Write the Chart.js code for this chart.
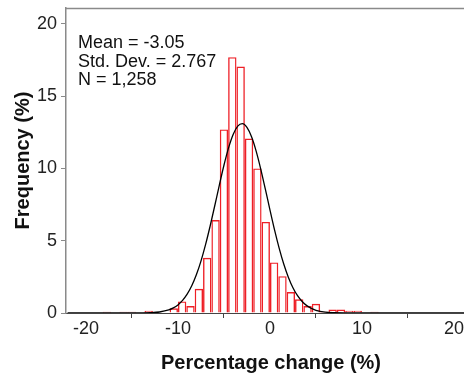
<!DOCTYPE html>
<html><head><meta charset="utf-8">
<script src="https://cdn.jsdelivr.net/npm/chart.js@4.4.1/dist/chart.umd.min.js"></script>
<style>
html,body{margin:0;padding:0;overflow:hidden;background:#fff;width:464px;height:377px}
#wrap{position:relative;width:476px;height:377px}
#stats{position:absolute;left:78px;top:33px;font:18px 'Liberation Sans',Arial,sans-serif;line-height:18.5px;color:#111;white-space:nowrap}
</style></head><body>
<div id="wrap"><canvas id="c"></canvas><div id="stats"></div></div>
<script>
// Histogram bins (bin centres, %)
const binCenters = [-17.727,-16.818,-15.909,-15.000,-14.091,-13.182,-12.273,-11.364,-10.455,-9.545,-8.636,-7.727,-6.818,-5.909,-5.000,-4.091,-3.182,-2.273,-1.364,-0.455,0.455,1.364,2.273,3.182,4.091,5.000,5.909,6.818,7.727,8.636,9.545,10.455,11.364];
const frequencies = [0.08,0,0.08,0.08,0,0.16,0,0,0.32,0.80,0.48,1.67,3.82,6.43,12.7,17.7,17.05,12.07,10.0,6.3,3.5,2.55,1.45,0.95,0.48,0.64,0.08,0.24,0.24,0.16,0.16,0,0.08];
// Fitted normal curve
const curveX = [-22,-18,-16,-15,-14,-13,-12,-11,-10.5,-10,-9.5,-9,-8.5,-8,-7.5,-7,-6.5,-6,-5.5,-5,-4.5,-4,-3.5,-3,-2.5,-2,-1.5,-1,-0.5,0,0.5,1,1.5,2,2.5,3,3.5,4,4.5,5,6,7,8,10,14,22.4];
const curveY = [0,0,0.0002,0.001,0.005,0.02,0.07,0.21,0.35,0.56,0.87,1.30,1.88,2.64,3.59,4.73,6.02,7.42,8.85,10.22,11.42,12.35,12.93,13.10,12.84,12.19,11.20,9.96,8.57,7.14,5.75,4.49,3.39,2.48,1.75,1.20,0.80,0.51,0.32,0.19,0.06,0.018,0.004,0,0,0];
const xTicks = [-20,-10,0,10,20];
const yTicks = [0,5,10,15,20];
const statsLines = ['Mean = -3.05','Std. Dev. = 2.767','N = 1,258'];
const xTitle = 'Percentage change (%)';
const yTitle = 'Frequency (%)';

const FAM = "'Liberation Sans', Arial, sans-serif";
document.getElementById('stats').innerHTML = statsLines.join('<br>');

const framePlugin = {
  id:'frame',
  afterDraw(chart){
    const {ctx, chartArea:a} = chart;
    ctx.save();
    ctx.strokeStyle = '#8a8a8a';
    ctx.lineWidth = 1.5;
    ctx.beginPath();
    ctx.moveTo(a.left, a.top + 0.5);
    ctx.lineTo(a.right, a.top + 0.5);
    ctx.stroke();
    ctx.restore();
  }
};

new Chart(document.getElementById('c'), {
  type: 'bar',
  data: {
    datasets: [
      {
        type: 'line',
        data: curveX.map((x, i) => ({x, y: curveY[i]})),
        borderColor: '#000',
        borderWidth: 1.3,
        pointRadius: 0,
        cubicInterpolationMode: 'monotone',
        fill: false,
        order: 0
      },
      {
        type: 'bar',
        data: binCenters.map((x, i) => ({x, y: frequencies[i]})),
        backgroundColor: 'rgba(255,255,255,0)',
        borderColor: '#ee1f26',
        borderWidth: 1.4,
        inflateAmount: 0,
        barPercentage: 1,
        categoryPercentage: 1,
        order: 1
      }
    ]
  },
  options: {
    responsive: true,
    maintainAspectRatio: false,
    animation: false,
    layout: {padding: {top: 8, left: 0, right: 0, bottom: 0}},
    plugins: {legend: {display: false}, tooltip: {enabled: false}},
    scales: {
      x: {
        type: 'linear', min: -22.17, max: 22.4, offset: false,
        afterBuildTicks: s => { s.ticks = xTicks.map(v => ({value: v})); },
        afterFit: s => { s.height = 64; s.paddingLeft = 0; s.paddingRight = 0; },
        grid: {drawOnChartArea: false, drawTicks: true, tickLength: 5, tickColor: '#444'},
        border: {color: '#444', width: 1},
        ticks: {font: {size: 18, family: FAM}, color: '#222', padding: 0, maxRotation: 0, autoSkip: false},
        title: {display: true, text: xTitle, font: {size: 20, weight: 'bold', family: FAM}, color: '#111', padding: {top: 0, bottom: 2}}
      },
      y: {
        min: 0, max: 21.1,
        afterBuildTicks: s => { s.ticks = yTicks.map(v => ({value: v})); },
        afterFit: s => { s.width = 66; s.paddingTop = 0; s.paddingBottom = 0; },
        grid: {drawOnChartArea: false, drawTicks: true, tickLength: 5, tickColor: '#8a8a8a'},
        border: {color: '#8a8a8a', width: 1.5},
        ticks: {font: {size: 18, family: FAM}, color: '#222', padding: 4},
        title: {display: true, text: yTitle, font: {size: 20, weight: 'bold', family: FAM}, color: '#111', padding: {top: 11, bottom: 0}}
      }
    }
  },
  plugins: [framePlugin]
});
</script>
</body></html>
